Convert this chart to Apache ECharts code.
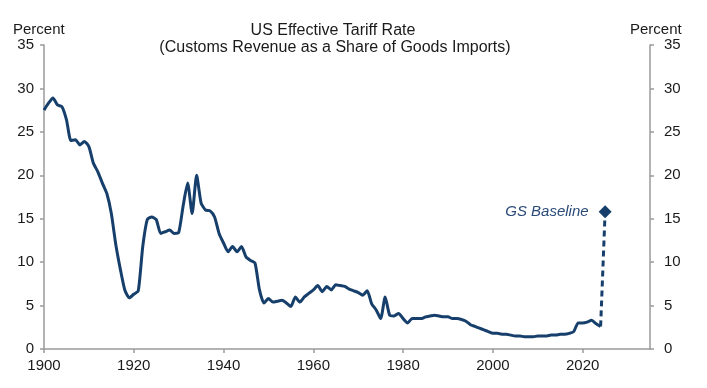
<!DOCTYPE html>
<html>
<head>
<meta charset="utf-8">
<script src="https://cdn.jsdelivr.net/npm/echarts@6/dist/echarts.min.js"></script>
<style>
html,body{margin:0;padding:0;background:#fff;}
#c{width:707px;height:388px;}
</style>
</head>
<body>
<div id="c"></div>
<script>
// Years and effective tariff rate (percent)
var years = [
 1900,1901,1902,1903,1904,1905,1906,1907,1908,1909,
 1910,1911,1912,1913,1914,1915,1916,1917,1918,1919,
 1920,1921,1922,1923,1924,1925,1926,1927,1928,1929,
 1930,1931,1932,1933,1934,1935,1936,1937,1938,1939,
 1940,1941,1942,1943,1944,1945,1946,1947,1948,1949,
 1950,1951,1952,1953,1954,1955,1956,1957,1958,1959,
 1960,1961,1962,1963,1964,1965,1966,1967,1968,1969,
 1970,1971,1972,1973,1974,1975,1976,1977,1978,1979,
 1980,1981,1982,1983,1984,1985,1986,1987,1988,1989,
 1990,1991,1992,1993,1994,1995,1996,1997,1998,1999,
 2000,2001,2002,2003,2004,2005,2006,2007,2008,2009,
 2010,2011,2012,2013,2014,2015,2016,2017,2018,2019,
 2020,2021,2022,2023,2024
];
var tariffRate = [
 27.5,28.3,28.9,28.1,27.9,26.4,24.0,24.1,23.5,23.9,
 23.3,21.4,20.4,19.1,17.9,15.6,12.0,9.2,6.8,5.9,
 6.3,6.7,11.8,14.9,15.2,14.9,13.3,13.5,13.7,13.3,
 13.4,16.5,19.1,15.6,20.0,16.8,16.0,15.9,15.2,13.3,
 12.2,11.2,11.8,11.2,11.8,10.6,10.2,9.9,6.8,5.3,
 5.8,5.4,5.5,5.6,5.3,4.9,6.0,5.4,6.0,6.4,
 6.8,7.3,6.6,7.2,6.8,7.4,7.3,7.2,6.9,6.7,
 6.5,6.2,6.7,5.2,4.5,3.5,6.0,3.9,3.8,4.1,
 3.5,3.0,3.5,3.5,3.5,3.7,3.8,3.9,3.8,3.7,
 3.7,3.5,3.5,3.4,3.2,2.8,2.6,2.4,2.2,2.0,
 1.8,1.8,1.7,1.7,1.6,1.5,1.5,1.4,1.4,1.4,
 1.5,1.5,1.5,1.6,1.6,1.7,1.7,1.8,2.0,3.0,
 3.0,3.1,3.3,2.9,2.6
];
// GS Baseline projection
var baselineYears = [2024, 2025];
var baselineValues = [2.6, 15.8];
var baselineLabel = 'GS Baseline';

var xTicks = {min: 1900, max: 2035, interval: 20};
var yTicks = {min: 0, max: 35, interval: 5};

var titleText = 'US Effective Tariff Rate';
var subtitleText = '(Customs Revenue as a Share of Goods Imports)';
var axisUnit = 'Percent';

var navy = '#173f6b';
var FONT = '"Liberation Sans", Arial, sans-serif';
var textColor = '#1a1a1a';
var axisColor = '#9a9a9a';

var histData = years.map(function (y, i) { return [y, tariffRate[i]]; });
var baseData = baselineYears.map(function (y, i) {
  var item = {value: [y, baselineValues[i]]};
  if (i === 0) { item.symbol = 'none'; item.label = {show: false}; }
  return item;
});

function yAxisCfg(pos, margin) {
  return {
    type: 'value', position: pos,
    min: yTicks.min, max: yTicks.max, interval: yTicks.interval,
    axisLine: {show: true, lineStyle: {color: axisColor, width: 1.5}},
    axisTick: {show: true, length: 4, lineStyle: {color: axisColor, width: 1.5}},
    splitLine: {show: false},
    axisLabel: {color: textColor, fontFamily: FONT, fontSize: 15, margin: margin}
  };
}

var chart = echarts.init(document.getElementById('c'), null, {renderer: 'canvas'});
chart.setOption({
  animation: false,
  backgroundColor: '#fff',
  grid: {left: 44, right: 57, top: 45, bottom: 39, containLabel: false},
  xAxis: {
    type: 'value',
    min: xTicks.min, max: xTicks.max, interval: xTicks.interval,
    axisLine: {show: true, lineStyle: {color: axisColor, width: 1.5}},
    axisTick: {show: true, length: 4, lineStyle: {color: axisColor, width: 1.5}},
    splitLine: {show: false},
    axisLabel: {
      color: textColor, fontFamily: FONT, fontSize: 15, margin: 9,
      showMaxLabel: false,
      formatter: function (v) { return (v % 20 === 0) ? String(v) : ''; }
    }
  },
  yAxis: [yAxisCfg('left', 10), yAxisCfg('right', 14)],
  graphic: [
    {type: 'text', x: 333, y: 31, style: {text: titleText, font: '16px ' + FONT, fill: textColor, textAlign: 'center', textVerticalAlign: 'middle'}},
    {type: 'text', x: 335, y: 48, style: {text: subtitleText, font: '16px ' + FONT, fill: textColor, textAlign: 'center', textVerticalAlign: 'middle'}},
    {type: 'text', x: 13, y: 30, style: {text: axisUnit, font: '15px ' + FONT, fill: textColor, textVerticalAlign: 'middle'}},
    {type: 'text', x: 630, y: 30, style: {text: axisUnit, font: '15px ' + FONT, fill: textColor, textVerticalAlign: 'middle'}}
  ],
  series: [
    {
      type: 'line', data: histData, yAxisIndex: 0,
      showSymbol: false, smooth: 0.2,
      lineStyle: {color: navy, width: 3}
    },
    {
      type: 'line', data: baseData, yAxisIndex: 0,
      symbol: 'diamond', symbolSize: 13,
      showSymbol: true,
      lineStyle: {color: navy, width: 3, type: [6, 4]},
      itemStyle: {color: navy},
      label: {
        show: true, position: 'left', distance: 10,
        formatter: baselineLabel,
        fontFamily: FONT, fontSize: 15, fontStyle: 'italic', color: '#2a4a78'
      }
    }
  ]
});
</script>
</body>
</html>
